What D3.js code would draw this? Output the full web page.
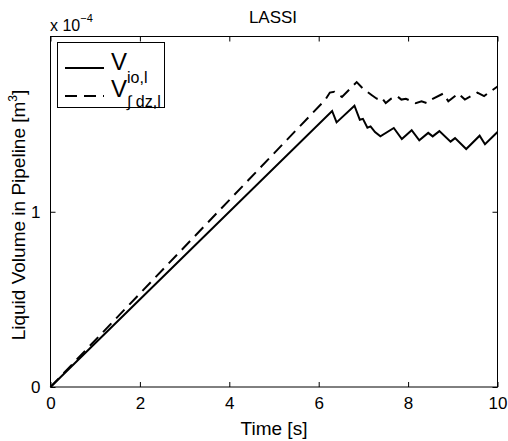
<!DOCTYPE html>
<html>
<head>
<meta charset="utf-8">
<script src="https://cdn.jsdelivr.net/npm/d3@7"></script>
<style>
body{margin:0;background:#fff;}
text{font-family:"Liberation Sans",Arial,sans-serif;}
</style>
</head>
<body>
<svg width="508" height="441"></svg>
<script>
// time [s] and volume [1e-4 m^3]
var ioTime = [0, 6.30, 6.40, 6.80, 6.92, 6.99, 7.09, 7.16, 7.26, 7.38, 7.68, 7.86, 8.08, 8.25, 8.45, 8.55, 8.70, 8.95, 9.05, 9.30, 9.60, 9.72, 10];
var ioVol  = [0, 1.575, 1.51, 1.605, 1.525, 1.53, 1.48, 1.487, 1.455, 1.43, 1.478, 1.415, 1.465, 1.408, 1.45, 1.43, 1.46, 1.40, 1.42, 1.358, 1.434, 1.385, 1.455];

var dzTime = [0, 6.15, 6.25, 6.35, 6.52, 6.85, 7.00, 7.19, 7.30, 7.40, 7.50, 7.62, 7.75, 7.85, 7.95, 8.17, 8.30, 8.42, 8.52, 8.79, 8.90, 9.12, 9.27, 9.55, 9.70, 10];
var dzVol  = [0, 1.64, 1.68, 1.685, 1.655, 1.74, 1.70, 1.665, 1.645, 1.655, 1.62, 1.645, 1.66, 1.64, 1.645, 1.62, 1.63, 1.62, 1.64, 1.675, 1.63, 1.675, 1.64, 1.68, 1.66, 1.715];

var xTicks = [0, 2, 4, 6, 8, 10];
var yTicks = [0, 1];

var svg = d3.select("svg");
var pL = 50.5, pR = 497.5, pT = 36.5, pB = 387;

var x = d3.scaleLinear().domain([0, 10]).range([pL, pR]);
var y = d3.scaleLinear().domain([0, 2]).range([pB, pT]);

var ioData = ioTime.map((t, i) => [t, ioVol[i]]);
var dzData = dzTime.map((t, i) => [t, dzVol[i]]);

// axes box with inward ticks
var g = svg.append("g");
g.append("rect").attr("x", pL).attr("y", pT).attr("width", pR - pL).attr("height", pB - pT)
  .attr("fill", "none").attr("stroke", "#000").attr("stroke-width", 1);

var xb = g.append("g").attr("transform", "translate(0," + pB + ")")
  .call(d3.axisBottom(x).tickValues(xTicks).tickSizeInner(-5).tickSizeOuter(0).tickPadding(10).tickFormat(d3.format("d")));
var xt = g.append("g").attr("transform", "translate(0," + pT + ")")
  .call(d3.axisTop(x).tickValues(xTicks).tickSizeInner(-5).tickSizeOuter(0).tickFormat(""));
var yl = g.append("g").attr("transform", "translate(" + pL + ",0)")
  .call(d3.axisLeft(y).tickValues(yTicks).tickSizeInner(-5).tickSizeOuter(0).tickPadding(10).tickFormat(d3.format("d")));
var yr = g.append("g").attr("transform", "translate(" + pR + ",0)")
  .call(d3.axisRight(y).tickValues(yTicks).tickSizeInner(-5).tickSizeOuter(0).tickFormat(""));
[xb, xt, yl, yr].forEach(a => {
  a.select(".domain").remove();
  a.selectAll("line").attr("stroke", "#000");
  a.selectAll("text").attr("font-size", 17).attr("fill", "#000").attr("font-family", "Liberation Sans, Arial, sans-serif");
});
xb.selectAll("text").attr("dy", "0.71em");

var line = d3.line().x(d => x(d[0])).y(d => y(d[1]));

svg.append("path").datum(ioData).attr("d", line)
  .attr("fill", "none").attr("stroke", "#000").attr("stroke-width", 2);
svg.append("path").datum(dzData).attr("d", line)
  .attr("fill", "none").attr("stroke", "#000").attr("stroke-width", 2).attr("stroke-dasharray", "12,7");

// title and labels
svg.append("text").attr("x", 273).attr("y", 23).attr("text-anchor", "middle").attr("font-size", 17).text("LASSI");
svg.append("text").attr("x", 274).attr("y", 435).attr("text-anchor", "middle").attr("font-size", 19).text("Time [s]");

var ylab = svg.append("text").attr("transform", "translate(25,215) rotate(-90)").attr("text-anchor", "middle").attr("font-size", 19);
ylab.append("tspan").text("Liquid Volume in Pipeline [m");
ylab.append("tspan").attr("font-size", 12).attr("dy", -8).text("3");
ylab.append("tspan").attr("dy", 8).text("]");

var ex = svg.append("text").attr("x", 50).attr("y", 31).attr("font-size", 16);
ex.append("tspan").text("x 10");
ex.append("tspan").attr("font-size", 11).attr("dy", -9).text("\u22124");

// legend
var lg = svg.append("g");
lg.append("rect").attr("x", 57.5).attr("y", 42.5).attr("width", 107).attr("height", 65)
  .attr("fill", "#fff").attr("stroke", "#000").attr("stroke-width", 1);
lg.append("line").attr("x1", 65).attr("x2", 104).attr("y1", 68).attr("y2", 68)
  .attr("stroke", "#000").attr("stroke-width", 2);
lg.append("line").attr("x1", 65).attr("x2", 104).attr("y1", 96).attr("y2", 96)
  .attr("stroke", "#000").attr("stroke-width", 2).attr("stroke-dasharray", "12,7");
var t1 = lg.append("text").attr("x", 111).attr("y", 70).attr("font-size", 24);
t1.append("tspan").text("V");
t1.append("tspan").attr("font-size", 16).attr("dy", 13).text("io,l");
var t2 = lg.append("text").attr("x", 111).attr("y", 97).attr("font-size", 24);
t2.append("tspan").text("V");
t2.append("tspan").attr("font-size", 16).attr("dy", 10).text("\u222B dz,l");
</script>
</body>
</html>
